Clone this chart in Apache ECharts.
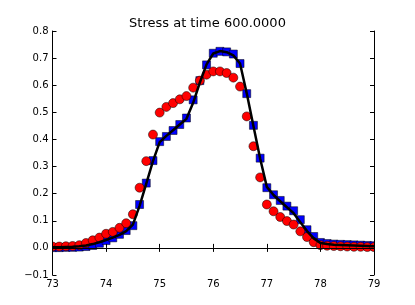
<!DOCTYPE html>
<html>
<head>
<meta charset="utf-8">
<script src="https://cdn.jsdelivr.net/npm/echarts@6/dist/echarts.min.js"></script>
<style>
html,body{margin:0;padding:0;background:#fff;}
#chart{width:415px;height:305px;}
</style>
</head>
<body>
<div id="chart"></div>
<script>
var titleText = 'Stress at time 600.0000';
var xPositions = [73.0,73.125,73.25,73.375,73.5,73.625,73.75,73.875,74.0,74.125,74.25,74.375,74.5,74.625,74.75,74.875,
  75.0,75.125,75.25,75.375,75.5,75.625,75.75,75.875,76.0,76.125,76.25,76.375,76.5,76.625,76.75,76.875,
  77.0,77.125,77.25,77.375,77.5,77.625,77.75,77.875,78.0,78.125,78.25,78.375,78.5,78.625,78.75,78.875,79.0];
var lineValues = [0.002,0.002,0.003,0.004,0.006,0.009,0.014,0.021,0.029,0.038,0.048,0.062,0.086,0.155,0.237,0.32,
  0.39,0.413,0.434,0.455,0.476,0.535,0.61,0.677,0.717,0.726,0.722,0.71,0.68,0.57,0.45,0.33,
  0.225,0.195,0.172,0.15,0.128,0.095,0.062,0.035,0.018,0.014,0.012,0.011,0.01,0.009,0.008,0.007,0.006];
var squareValues = [0.001,0.001,0.002,0.002,0.003,0.005,0.009,0.017,0.027,0.037,0.05,0.064,0.082,0.16,0.239,0.322,
  0.392,0.411,0.433,0.455,0.479,0.546,0.617,0.675,0.718,0.725,0.723,0.715,0.68,0.569,0.452,0.331,
  0.222,0.196,0.175,0.154,0.137,0.104,0.067,0.042,0.02,0.016,0.014,0.013,0.012,0.011,0.01,0.009,0.008];
var circleValues = [0.005,0.005,0.006,0.007,0.01,0.018,0.028,0.038,0.052,0.059,0.074,0.091,0.124,0.222,0.32,0.418,
  0.499,0.52,0.534,0.548,0.56,0.591,0.617,0.639,0.651,0.651,0.645,0.628,0.595,0.485,0.375,0.26,
  0.16,0.135,0.114,0.099,0.086,0.061,0.04,0.021,0.01,0.008,0.007,0.006,0.005,0.004,0.004,0.003,0.003];
var xTicks = [73,74,75,76,77,78,79];
var yTicks = [-0.1,0.0,0.1,0.2,0.3,0.4,0.5,0.6,0.7,0.8];

function pairs(ys){ return xPositions.map(function(x,i){ return [x, ys[i]]; }); }
var font = 'DejaVu Sans';
var W = 415, H = 305;
var G = {left:52.5, right:41, top:31, bottom:30};
var tickStyle = {show:true, inside:true, length:4, lineStyle:{color:'#000', width:1}};
var axisLineStyle = {show:true, lineStyle:{color:'#000', width:1}};

var chart = echarts.init(document.getElementById('chart'), null, {renderer:'canvas'});
chart.setOption({
  animation:false,
  backgroundColor:'#fff',
  title:{text:titleText, left:'center', top:12, textStyle:{fontFamily:font, fontSize:13, fontWeight:'normal', color:'#000'}},
  grid:{left:G.left, right:G.right, top:G.top, bottom:G.bottom},
  // white masks outside the plot frame so edge markers are clipped like the original
  graphic:[
    {type:'rect', z:5, silent:true, shape:{x:0, y:0, width:G.left, height:H}, style:{fill:'#fff'}},
    {type:'rect', z:5, silent:true, shape:{x:W-G.right, y:0, width:G.right, height:H}, style:{fill:'#fff'}}
  ],
  xAxis:[
    {type:'value', min:xTicks[0], max:xTicks[xTicks.length-1], interval:1, position:'bottom', z:10,
     axisLine:axisLineStyle, axisTick:tickStyle, splitLine:{show:false},
     axisLabel:{fontFamily:font, fontSize:10, color:'#000', margin:4, formatter:function(v){return String(v);}}},
    {type:'value', min:xTicks[0], max:xTicks[xTicks.length-1], interval:1, position:'top', z:10,
     axisLine:axisLineStyle, axisTick:tickStyle, splitLine:{show:false}, axisLabel:{show:false}}
  ],
  yAxis:[
    {type:'value', min:yTicks[0], max:yTicks[yTicks.length-1], interval:0.1, position:'left', z:10,
     axisLine:axisLineStyle, axisTick:tickStyle, splitLine:{show:false},
     axisLabel:{fontFamily:font, fontSize:10, color:'#000', margin:4,
       formatter:function(v){ var s = v.toFixed(1); return s.replace('-', '\u2212'); }}},
    {type:'value', min:yTicks[0], max:yTicks[yTicks.length-1], interval:0.1, position:'right', z:10,
     axisLine:axisLineStyle, axisTick:tickStyle, splitLine:{show:false}, axisLabel:{show:false}}
  ],
  series:[
    {type:'scatter', data:pairs(squareValues), symbol:'rect', symbolSize:8, z:2,
     itemStyle:{color:'#0000ff', opacity:1, borderColor:'#000', borderWidth:0.5}},
    {type:'scatter', data:pairs(circleValues), symbol:'circle', symbolSize:9, z:3,
     itemStyle:{color:'#ff0000', opacity:1, borderColor:'#000', borderWidth:0.5}},
    {type:'line', data:pairs(lineValues), showSymbol:false, symbol:'none', z:4,
     lineStyle:{color:'#000', width:2.5}}
  ]
});
</script>
</body>
</html>
